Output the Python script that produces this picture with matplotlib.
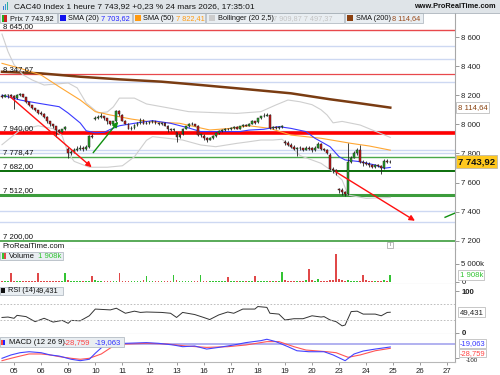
import matplotlib
matplotlib.use('Agg')
import matplotlib.pyplot as plt
from matplotlib.patches import Rectangle
import numpy as np

plt.rcParams['font.family'] = ['Liberation Sans', 'DejaVu Sans']

# hourly bars, 9 a day; the first 4 bars are the end of 04 March
opens = ([8195, 8190, 8200, 8200]
         + [8195, 8180, 8200, 8205, 8190, 8150, 8130, 8110, 8095]
         + [8080, 8070, 8050, 8020, 8000, 7985, 7960, 7950, 7965]
         + [7830, 7800, 7810, 7825, 7830, 7835, 7830, 7845, 7920]
         + [8035, 8045, 8050, 8055, 8040, 8020, 8005, 8020, 8090]
         + [8065, 8025, 8005, 7970, 7975, 7995, 8010, 8030, 8005]
         + [8010, 8015, 8020, 8010, 8000, 8010, 7990, 7970, 7960]
         + [7945, 7915, 7930, 7970, 7985, 8000, 8005, 7990, 7925]
         + [7920, 7905, 7895, 7905, 7920, 7940, 7955, 7960, 7970]
         + [7970, 7975, 7980, 7970, 7985, 7995, 7990, 8005, 8020]
         + [8015, 8040, 8055, 8060, 8065, 7975, 7980, 7975, 7980]
         + [7880, 7870, 7860, 7845, 7830, 7840, 7835, 7825, 7840]
         + [7835, 7820, 7840, 7865, 7830, 7825, 7790, 7690, 7685]
         + [7555, 7550, 7535, 7520, 7740, 7770, 7800, 7825, 7740]
         + [7735, 7730, 7720, 7710, 7720, 7715, 7700, 7745, 7740])
highs = ([8205, 8210, 8205, 8205]
         + [8200, 8210, 8215, 8210, 8190, 8155, 8135, 8115, 8100]
         + [8090, 8075, 8055, 8025, 8005, 7990, 7965, 7970, 7990]
         + [7845, 7825, 7840, 7850, 7855, 7850, 7860, 7925, 7930]
         + [8060, 8065, 8075, 8060, 8045, 8025, 8025, 8100, 8095]
         + [8070, 8030, 8010, 7985, 8000, 8015, 8040, 8035, 8020]
         + [8020, 8030, 8025, 8015, 8015, 8015, 7995, 7975, 7975]
         + [7950, 7935, 7975, 7990, 8010, 8015, 8005, 7995, 7935]
         + [7930, 7910, 7910, 7925, 7945, 7960, 7965, 7975, 7975]
         + [7980, 7990, 7985, 7990, 8000, 8000, 8010, 8030, 8025]
         + [8045, 8060, 8075, 8080, 8070, 7990, 7990, 7985, 7995]
         + [7890, 7885, 7870, 7855, 7845, 7850, 7840, 7850, 7850]
         + [7845, 7850, 7880, 7870, 7840, 7830, 7800, 7705, 7690]
         + [7565, 7560, 7545, 7870, 7785, 7815, 7835, 7860, 7755]
         + [7745, 7740, 7730, 7730, 7730, 7720, 7760, 7760, 7755])
lows = ([8180, 8185, 8180, 8185]
        + [8105, 8175, 8195, 8185, 8145, 8125, 8105, 8090, 8070]
        + [8065, 8040, 8010, 7990, 7975, 7915, 7940, 7945, 7960]
        + [7770, 7790, 7805, 7815, 7820, 7815, 7825, 7840, 7905]
        + [8030, 8035, 8045, 8030, 8000, 7995, 7995, 8015, 8060]
        + [8020, 8000, 7965, 7960, 7970, 7990, 8005, 8000, 8000]
        + [8005, 8010, 8005, 7995, 7995, 7985, 7950, 7955, 7955]
        + [7880, 7905, 7925, 7965, 7980, 7995, 7985, 7920, 7915]
        + [7895, 7880, 7890, 7900, 7915, 7935, 7950, 7955, 7960]
        + [7960, 7970, 7965, 7965, 7980, 7985, 7985, 8000, 8005]
        + [8010, 8035, 8050, 8055, 7970, 7965, 7965, 7970, 7975]
        + [7860, 7850, 7835, 7820, 7780, 7825, 7815, 7820, 7820]
        + [7810, 7815, 7835, 7825, 7815, 7795, 7685, 7665, 7655]
        + [7530, 7515, 7505, 7515, 7735, 7765, 7790, 7735, 7715]
        + [7720, 7710, 7700, 7700, 7705, 7660, 7695, 7735, 7735])
closes = ([8190, 8200, 8200, 8195]
          + [8180, 8200, 8205, 8190, 8150, 8130, 8110, 8095, 8080]
          + [8070, 8050, 8020, 8000, 7985, 7960, 7950, 7965, 7980]
          + [7800, 7810, 7825, 7830, 7835, 7830, 7845, 7920, 7915]
          + [8045, 8050, 8055, 8040, 8020, 8005, 8020, 8090, 8070]
          + [8025, 8005, 7970, 7975, 7995, 8010, 8030, 8005, 8010]
          + [8015, 8020, 8010, 8000, 8010, 7990, 7970, 7960, 7965]
          + [7915, 7930, 7970, 7985, 8000, 8005, 7990, 7925, 7930]
          + [7905, 7895, 7905, 7920, 7940, 7955, 7960, 7970, 7965]
          + [7975, 7980, 7970, 7985, 7995, 7990, 8005, 8020, 8010]
          + [8040, 8055, 8060, 8065, 7975, 7980, 7975, 7980, 7985]
          + [7870, 7860, 7845, 7830, 7840, 7835, 7825, 7840, 7830]
          + [7820, 7840, 7865, 7830, 7825, 7800, 7690, 7685, 7670]
          + [7550, 7535, 7520, 7740, 7770, 7800, 7825, 7740, 7735]
          + [7730, 7720, 7710, 7720, 7715, 7700, 7745, 7740, 7743.92])
# volume in thousands
volumes = ([300, 250, 350, 2400]
           + [350, 300, 250, 250, 300, 250, 300, 400, 2600]
           + [400, 300, 250, 250, 250, 300, 350, 400, 2400]
           + [600, 350, 300, 300, 250, 300, 350, 400, 1750]
           + [500, 350, 300, 300, 300, 300, 350, 400, 2400]
           + [400, 300, 300, 300, 250, 300, 350, 500, 1750]
           + [400, 300, 250, 300, 250, 300, 350, 400, 2000]
           + [450, 300, 300, 300, 250, 300, 350, 350, 1850]
           + [400, 300, 250, 250, 250, 300, 300, 350, 1500]
           + [350, 300, 250, 250, 250, 250, 300, 350, 1750]
           + [350, 300, 300, 300, 250, 300, 350, 400, 2850]
           + [600, 400, 350, 400, 300, 350, 400, 500, 3600]
           + [500, 400, 830, 400, 350, 400, 500, 600, 7850]
           + [800, 500, 400, 550, 400, 350, 300, 400, 1950]
           + [500, 350, 300, 350, 300, 400, 450, 300, 1908])

day_labels = ['05', '06', '09', '10', '11', '12', '13', '16', '17', '18',
              '19', '20', '23', '24', '25', '26', '27']
first_day_bar = 4
bars_per_day = 9

# indicator lines (bar index, value)
sma20_bar = [0, 6, 12, 19, 22, 26, 28, 31, 34, 36, 39, 44, 50, 56, 62, 66, 70,
             79, 82, 87, 92, 96, 101, 104, 109, 112, 114, 119, 124, 127, 129]
sma20 = [8200, 8167, 8145, 8121, 8077, 8009, 7955, 7942, 7945, 7965, 7990,
         8007, 8025, 8007, 7975, 7950, 7950, 7950, 7960, 7966, 7984, 7972,
         7950, 7904, 7846, 7777, 7755, 7743, 7720, 7698, 7703.62]
sma50_bar = [0, 6, 13, 19, 26, 31, 36, 43, 49, 59, 69, 76, 82, 89, 96, 106,
             116, 122, 129]
sma50 = [8419, 8385, 8339, 8258, 8167, 8087, 8064, 8036, 8018, 8007, 7961,
         7972, 7990, 7972, 7926, 7904, 7869, 7851, 7822.41]
sma200_bar = [0, 13, 26, 39, 53, 66, 82, 96, 109, 119, 129]
sma200 = [8361, 8350, 8327, 8309, 8293, 8270, 8240, 8213, 8172, 8144, 8114.64]
boll_up_bar = [0, 2, 4, 7, 10, 14, 22, 25, 28, 32, 35, 37, 39, 44, 48, 56,
               62, 71, 78, 86, 91, 95, 99, 103, 106, 108, 110, 113, 119, 123,
               129]
boll_up = [8620, 8500, 8410, 8340, 8305, 8270, 8284, 8250, 8146, 8078, 8085,
           8120, 8180, 8180, 8140, 8110, 8087, 8080, 8075, 8087, 8133, 8167,
           8155, 8135, 8100, 8064, 8010, 8020, 7995, 7961, 7909.87]
boll_dn_bar = [0, 6, 12, 17, 20, 22, 24, 29, 35, 40, 44, 48, 50, 55, 60, 66,
               71, 78, 82, 86, 90, 93, 96, 99, 106, 110, 113, 115, 121, 129]
boll_dn = [7860, 7960, 7990, 7970, 7920, 7800, 7745, 7705, 7705, 7715, 7777,
           7890, 7915, 7904, 7892, 7858, 7846, 7869, 7880, 7892, 7892, 7897,
           7850, 7785, 7732, 7674, 7617, 7514, 7491, 7497.37]
rsi_bar = [0, 2, 4, 5, 8, 11, 14, 17, 20, 22, 23, 26, 29, 31, 36, 38, 41, 44,
           46, 48, 53, 56, 58, 60, 64, 67, 69, 72, 75, 77, 80, 84, 85, 88, 89,
           92, 94, 97, 100, 103, 106, 107, 109, 111, 113, 114, 116, 118, 120,
           122, 124, 126, 128, 129]
rsi = [37, 38, 35, 42, 39, 27, 35, 26, 30, 23, 30, 29, 41, 57, 55, 59, 47, 52,
       49, 50, 49, 47, 37, 49, 44, 37, 32, 43, 50, 47, 57, 57, 63, 61, 47, 45,
       31, 34, 34, 41, 38, 39, 31, 27, 17, 19, 51, 52, 45, 45, 45, 41, 49,
       49.431]
macd_bar = [0, 3, 6, 9, 13, 16, 19, 23, 26, 29, 31, 34, 37, 41, 48, 52, 57,
            60, 64, 68, 72, 77, 81, 86, 88, 91, 95, 98, 102, 107, 110, 114,
            117, 120, 124, 129]
macd = [-100, -76, -60, -53, -60, -76, -84, -107, -117, -107, -64, -5, 7, 7,
        12, 7, -5, -17, -12, -34, -22, -5, 12, 26, 36, 19, -17, -46, -53, -53,
        -76, -117, -69, -48, -34, -19.063]
signal_bar = [0, 3, 6, 9, 13, 16, 19, 23, 26, 29, 33, 37, 41, 48, 55, 61, 68,
              75, 81, 88, 92, 97, 101, 108, 111, 115, 119, 124, 129]
signal = [-117, -100, -84, -69, -69, -76, -88, -100, -107, -100, -69, -12, 2,
          7, 2, -12, -22, -17, -5, 19, 19, -17, -41, -53, -60, -93, -76, -46,
          -28.759]

# horizontal levels drawn on the chart
levels = [8645, 8347.67, 7940, 7778.47, 7682, 7512, 7200]
level_colors = ['#e8484c', '#e8484c', '#ff0000', '#4aa84a', '#0a6e0a', '#3c9c3c', '#3c9c3c']
level_widths = [1.0, 0.9, 2.6, 1.0, 1.4, 2.2, 1.2]
guide_levels = [8538, 8449, 8291, 7956, 7823, 7803, 7407, 7328]

# drawn trend arrows (bar, price) -> (bar, price)
arrows = [((2.7, 8190), (29.8, 7705), '#ff1010'),
          ((30.3, 7805), (38.6, 8018), '#109010'),
          ((111.0, 7672), (137.2, 7337), '#ff1010')]
green_seg_bar = [147.2, 150.5]
green_seg = [7361, 7390]

W, H = 500, 375


def rect(x0, y0, x1, y1):
    return [x0 / W, 1 - y1 / H, (x1 - x0) / W, (y1 - y0) / H]


def fmt(v, dec=0):
    s = f"{v:,.{dec}f}"
    return s.replace(',', ' ').replace('.', ',')


o = np.array(opens, float)
h = np.array(highs, float)
l = np.array(lows, float)
c = np.array(closes, float)
idx = np.arange(len(c))
up = c >= o

fig = plt.figure(figsize=(5, 3.75), dpi=100)
ax_p = fig.add_axes(rect(0, 13, 455, 249))
ax_v = fig.add_axes(rect(0, 249, 455, 284), sharex=ax_p)
ax_r = fig.add_axes(rect(0, 284, 455, 334), sharex=ax_p)
ax_m = fig.add_axes(rect(0, 334, 455, 362), sharex=ax_p)

for ax in (ax_p, ax_v, ax_r, ax_m):
    for s in ('top', 'left'):
        ax.spines[s].set_visible(False)
    ax.spines['right'].set_color('#a8a8a8')
    ax.spines['bottom'].set_color('#b8b8b8')
    ax.spines['right'].set_linewidth(0.8)
    ax.spines['bottom'].set_linewidth(0.8)
    ax.yaxis.tick_right()
    ax.tick_params(axis='y', length=3, width=0.6, pad=1.5, labelsize=5.6,
                   colors='#222222')
    ax.tick_params(axis='y', color='#888888')
    ax.tick_params(axis='x', bottom=False, labelbottom=False)

ax_p.set_xlim(-0.66, 150.5)

# ---- price panel
for lv in guide_levels:
    ax_p.axhline(lv, color='#cdd8f2', lw=1.0, zorder=1)
for lv, col, lw in zip(levels, level_colors, level_widths):
    ax_p.axhline(lv, color=col, lw=lw, zorder=2)
    ax_p.annotate(fmt(lv, 2), xy=(0, lv), xycoords=('axes fraction', 'data'),
                  xytext=(2, 0.6), textcoords='offset points', va='bottom',
                  ha='left', fontsize=5.6, color='#111111', zorder=6)

ax_p.plot(sma200_bar, sma200, color='#7a3c12', lw=1.8, zorder=3)
ax_p.plot(boll_up_bar, boll_up, color='#cfcfcf', lw=0.8, zorder=3)
ax_p.plot(boll_dn_bar, boll_dn, color='#cfcfcf', lw=0.8, zorder=3)
ax_p.plot(sma50_bar, sma50, color='#ffa733', lw=0.8, zorder=3)
ax_p.plot(sma20_bar, sma20, color='#3a3aff', lw=0.8, zorder=3)

ax_p.vlines(idx, l, h, color='#222222', lw=0.6, zorder=4)
ax_p.bar(idx, np.maximum(np.abs(c - o), 2.0), bottom=np.minimum(o, c),
         width=0.6, color=np.where(up, '#22a322', '#c81414'),
         edgecolor='#222222', lw=0.35, zorder=5)

for (x0, y0), (x1, y1), col in arrows:
    ax_p.annotate('', xy=(x1, y1), xytext=(x0, y0),
                  arrowprops=dict(arrowstyle='-|>', color=col, lw=1.0,
                                  mutation_scale=8, shrinkA=0, shrinkB=0),
                  zorder=6)
ax_p.plot(green_seg_bar, green_seg, color='#109010', lw=1.0, zorder=6)

ax_p.set_ylim(7143, 8765)
ax_p.set_yticks(range(7200, 8601, 200))
ax_p.set_yticklabels([fmt(v) for v in range(7200, 8601, 200)])

ytr = ax_p.get_yaxis_transform()
ax_p.text(1.006, sma200[-1], fmt(sma200[-1], 2), transform=ytr, ha='left',
          va='center', fontsize=5.6, color='#8b4513', zorder=8,
          bbox=dict(boxstyle='square,pad=0.25', fc='white', ec='#b0b0b0', lw=0.5))
ax_p.text(1.006, c[-1], fmt(c[-1], 2), transform=ytr, ha='left', va='center',
          fontsize=6.8, weight='bold', color='#111111', zorder=8,
          bbox=dict(boxstyle='square,pad=0.22', fc='#ffc81e', ec='#b0b0b0', lw=0.5))

# ---- volume panel
ax_v.bar(idx, volumes, width=0.55, color=np.where(up, '#33c433', '#e04848'),
         lw=0)
ax_v.set_ylim(-556, 9167)
ax_v.set_yticks([0, 5000])
ax_v.set_yticklabels(['0', '5 000k'])
ax_v.text(1.01, volumes[-1], '1 908k', transform=ax_v.get_yaxis_transform(),
          ha='left', va='center', fontsize=5.6, color='#33c433', zorder=8,
          bbox=dict(boxstyle='square,pad=0.2', fc='white', ec='#b0b0b0', lw=0.5))

# ---- RSI panel
ax_r.plot(rsi_bar, rsi, color='#333333', lw=0.7)
for lv in (70, 30):
    ax_r.axhline(lv, color='#b4b4b4', lw=0.6, ls=(0, (2, 2)))
ax_r.set_ylim(-2.4, 116.7)
ax_r.set_yticks([0, 100])
ax_r.set_yticklabels(['0', '100'])
for t in ax_r.get_yticklabels():
    t.set_fontweight('bold')
ax_r.text(1.01, rsi[-1], fmt(rsi[-1], 3), transform=ax_r.get_yaxis_transform(),
          ha='left', va='center', fontsize=5.6, color='#222222', zorder=8,
          bbox=dict(boxstyle='square,pad=0.2', fc='white', ec='#b0b0b0', lw=0.5))

# ---- MACD panel
ax_m.axhline(0, color='#a4a4ee', lw=1.2)
ax_m.plot(signal_bar, signal, color='#ff5555', lw=0.8)
ax_m.plot(macd_bar, macd, color='#4444ff', lw=0.8)
ax_m.set_ylim(-126.4, 73.6)
ax_m.set_yticks([-100])
ax_m.set_yticklabels(['-100'], va='top')
ax_m.tick_params(axis='y', labelsize=4.4, pad=5)
mtr = ax_m.get_yaxis_transform()
ax_m.text(1.01, macd[-1] + 25, fmt(macd[-1], 3), transform=mtr, ha='left',
          va='center', fontsize=5.4, color='#3333ff', zorder=8,
          bbox=dict(boxstyle='square,pad=0.12', fc='white', ec='#b0b0b0', lw=0.5))
ax_m.text(1.01, signal[-1] - 34, fmt(signal[-1], 3), transform=mtr, ha='left',
          va='center', fontsize=5.4, color='#ff4444', zorder=8,
          bbox=dict(boxstyle='square,pad=0.12', fc='white', ec='#b0b0b0', lw=0.5))

day_pos = [first_day_bar + bars_per_day * k for k in range(len(day_labels))]
ax_m.set_xticks(day_pos)
ax_m.set_xticklabels(day_labels)
ax_m.tick_params(axis='x', bottom=True, labelbottom=True, length=2, width=0.6,
                 color='#888888', labelsize=5.6, pad=2, labelcolor='#222222')

# ---- overlay: header, legends
ov = fig.add_axes([0, 0, 1, 1], zorder=20)
ov.set_xlim(0, W)
ov.set_ylim(H, 0)
ov.axis('off')
ov.patch.set_alpha(0)

ov.add_patch(Rectangle((0, 0), W, 12.5, fc='#dfe4e8', ec='none'))
ov.plot([0, W], [12.5, 12.5], color='#a9b2ba', lw=0.6)
for k, hh in enumerate([4, 6, 8]):
    ov.add_patch(Rectangle((2.5 + 2.2 * k, 10 - hh), 1.4, hh,
                           fc=['#3a7bd5', '#3a9ad5', '#2cb0a0'][k], ec='none'))
ov.text(14, 6.5, 'CAC40 Index 1 heure 7 743,92 +0,23 % 24 mars 2026, 17:35:01',
        fontsize=6, color='#111111', va='center')
ov.text(496, 6.8, 'www.ProRealTime.com', fontsize=5.3, weight='bold',
        color='#111111', va='center', ha='right')


def legend_box(x0, x1, y0, y1):
    ov.add_patch(Rectangle((x0, y0), x1 - x0, y1 - y0, fc='#e9eef2',
                           ec='#b4bcc4', lw=0.6))


fs = 5.3
ly0, ly1 = 13.3, 23.2
lyc = 18.4
legend_box(0, 57, ly0, ly1)
ov.add_patch(Rectangle((1.5, 15), 2.5, 6.5, fc='#22aa22', ec='none'))
ov.add_patch(Rectangle((4, 15), 2.5, 6.5, fc='#d02020', ec='none'))
ov.text(10, lyc, 'Prix 7 743,92', fontsize=fs, va='center', color='#111111')

legend_box(58, 132, ly0, ly1)
ov.add_patch(Rectangle((60, 15.2), 6, 6, fc='#1010ee', ec='none'))
ov.text(68, lyc, 'SMA (20)', fontsize=fs, va='center', color='#111111')
ov.text(101, lyc, fmt(sma20[-1], 2), fontsize=fs, va='center', color='#2222ff')

legend_box(133, 205, ly0, ly1)
ov.add_patch(Rectangle((135, 15.2), 6, 6, fc='#ff9a10', ec='none'))
ov.text(143, lyc, 'SMA (50)', fontsize=fs, va='center', color='#111111')
ov.text(176, lyc, fmt(sma50[-1], 2), fontsize=fs, va='center', color='#ff9a10')

legend_box(206, 344, ly0, ly1)
ov.add_patch(Rectangle((209, 15.2), 6, 6, fc='#cccccc', ec='none'))
ov.text(218, lyc, 'Bollinger (20 2,5)', fontsize=fs, va='center', color='#111111')
ov.text(273, lyc, fmt(boll_up[-1], 2) + ' ' + fmt(boll_dn[-1], 2),
        fontsize=fs, va='center', color='#c4c4c4')

legend_box(345, 423, ly0, ly1)
ov.add_patch(Rectangle((347, 15.2), 6, 6, fc='#8b4010', ec='none'))
ov.text(356, lyc, 'SMA (200)', fontsize=fs, va='center', color='#111111')
ov.text(392.5, lyc, fmt(sma200[-1], 2), fontsize=fs, va='center', color='#9a4a1a')

# bottom-left site name and info icon in price panel
ov.text(2, 246, 'ProRealTime.com', fontsize=5.6, color='#111111', va='center')
ov.add_patch(Rectangle((387, 241.5), 6, 6, fc='white', ec='#a0a0a0', lw=0.5))
ov.text(390, 244.7, 'i', fontsize=4.5, color='#808080', ha='center', va='center')

# panel legends
legend_box(0, 63, 251.7, 260.3)
ov.add_patch(Rectangle((1.5, 253.3), 2.3, 5.5, fc='#33c433', ec='none'))
ov.add_patch(Rectangle((3.8, 253.3), 2.3, 5.5, fc='#e04848', ec='none'))
ov.text(9, 256.1, 'Volume', fontsize=5.6, va='center', color='#111111')
ov.text(37.5, 256.1, '1 908k', fontsize=5.6, va='center', color='#33c433')

legend_box(0, 63, 286.5, 295.3)
ov.add_patch(Rectangle((1.3, 288.3), 4, 5, fc='#111111', ec='none'))
ov.text(7.5, 291, 'RSI (14)', fontsize=5.3, va='center', color='#111111')
ov.text(35.5, 291, fmt(rsi[-1], 3), fontsize=5.3, va='center', color='#111111')

legend_box(0, 124, 337.3, 347.3)
ov.add_patch(Rectangle((1.3, 339.5), 2, 5.5, fc='#ff4444', ec='none'))
ov.add_patch(Rectangle((3.3, 339.5), 2, 5.5, fc='#2222ff', ec='none'))
ov.text(9, 342.4, 'MACD (12 26 9)', fontsize=5.6, va='center', color='#111111')
ov.text(64, 342.4, fmt(signal[-1], 3), fontsize=5.6, va='center', color='#ff4444')
ov.text(95, 342.4, fmt(macd[-1], 3), fontsize=5.6, va='center', color='#3333ff')

fig.savefig('out.png', dpi=100)
